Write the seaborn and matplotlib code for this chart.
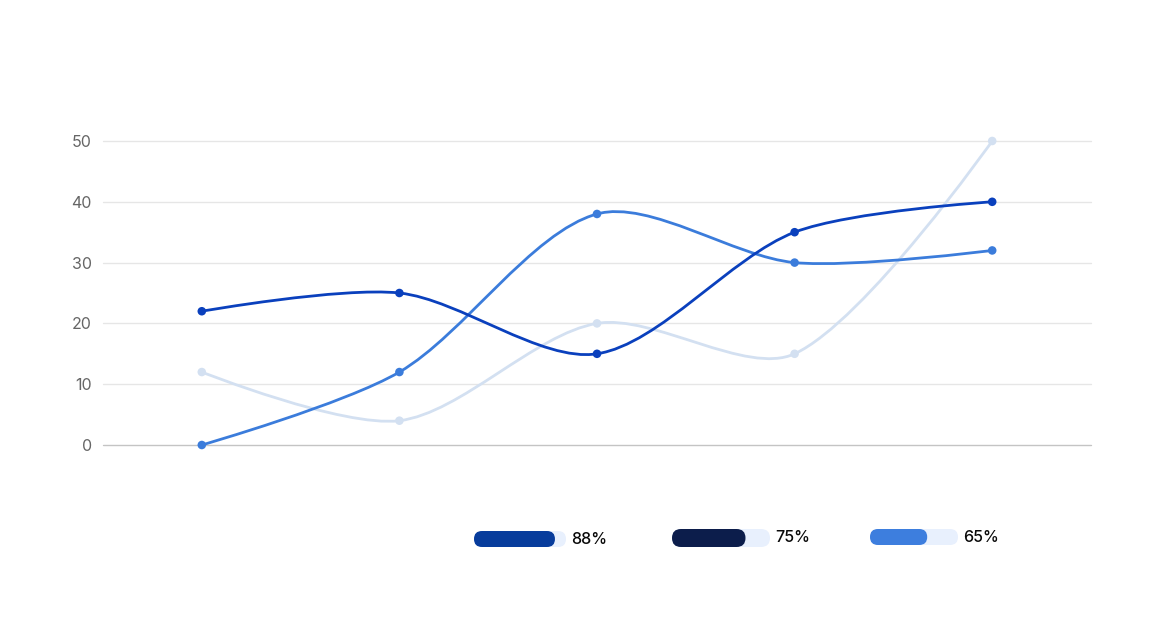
import numpy as np
import matplotlib
matplotlib.use("Agg")
import matplotlib.pyplot as plt
from matplotlib.path import Path
from matplotlib.patches import PathPatch, FancyBboxPatch
import seaborn as sns
import pandas as pd

# ---- data ----
categories = ["A", "B", "C", "D", "E"]
series_dark = [22, 25, 15, 35, 40]
series_mid = [0, 12, 38, 30, 32]
series_light = [12, 4, 20, 15, 50]
y_ticks = [0, 10, 20, 30, 40, 50]
legend_pcts = [88, 75, 65]

# ---- style ----
sns.set_theme(style="white")
plt.rcParams["font.family"] = ["Inter", "DejaVu Sans"]

W, H = 1163, 643
fig = plt.figure(figsize=(W / 100, H / 100), dpi=100)
ax_l, ax_r, ax_b, ax_t = 103, 1091, 445, 141
ax = fig.add_axes([ax_l / W, 1 - ax_b / H, (ax_r - ax_l) / W, (ax_b - ax_t) / H])

line_colors = ["#0a40bd", "#3b7cdb", "#d3e0f1"]
series_list = [series_light, series_mid, series_dark]
colors_list = [line_colors[2], line_colors[1], line_colors[0]]

xs = np.arange(len(categories))
px_x = (ax_r - ax_l) / len(categories)
px_y = (ax_b - ax_t) / 50.0


def smooth_path(xv, yv, smooth=0.3):
    # bezier smoothing computed in pixel space
    P = np.column_stack([np.asarray(xv, float) * px_x, np.asarray(yv, float) * px_y])
    n = len(P)
    verts = [P[0]]
    codes = [Path.MOVETO]
    cp0 = P[0].copy()
    for k in range(1, n):
        prev = P[k - 1]
        cur = P[k]
        if k + 1 < n:
            nxt = P[k + 1]
            v = nxt - prev
            l0 = np.hypot(*(cur - prev))
            l1 = np.hypot(*(nxt - cur))
            r = l1 / (l0 + l1)
            ncp = cur - v * smooth * (1 - r)
            after = cur + v * smooth * r
        else:
            ncp = cur.copy()
            after = cur.copy()
        verts += [cp0, ncp, cur]
        codes += [Path.CURVE4] * 3
        cp0 = after
    verts = np.array(verts)
    verts[:, 0] /= px_x
    verts[:, 1] /= px_y
    return Path(verts, codes)


for s, c in zip(series_list, colors_list):
    ax.add_patch(PathPatch(smooth_path(xs, s), facecolor="none", edgecolor=c,
                           lw=2, clip_on=False, zorder=3))

rows = []
for name, s in zip(["light", "mid", "dark"], series_list):
    for x, v in zip(xs, s):
        rows.append({"x": x, "y": v, "series": name})
df = pd.DataFrame(rows)
sns.scatterplot(data=df, x="x", y="y", hue="series",
                palette={"light": line_colors[2], "mid": line_colors[1], "dark": line_colors[0]},
                s=38, linewidth=0, ax=ax, legend=False, zorder=4, clip_on=False)

ax.set_xlim(-0.5, len(categories) - 0.5)
ax.set_ylim(0, 50)
ax.set_yticks(y_ticks)
ax.set_yticklabels([str(t) for t in y_ticks], color="#666666", fontsize=11.5)
ax.set_xticks([])
ax.set_xlabel("")
ax.set_ylabel("")
ax.tick_params(axis="y", length=0, pad=8)
for sp in ax.spines.values():
    sp.set_visible(False)
for t in y_ticks[1:]:
    ax.axhline(t, color="#e6e6e6", lw=1, zorder=1, clip_on=False)
ax.axhline(0, color="#c4c4c4", lw=1, zorder=1, clip_on=False)

# ---- progress-bar legend ----
lax = fig.add_axes([0, 0, 1, 1])
lax.set_xlim(0, W)
lax.set_ylim(H, 0)
lax.axis("off")
bar_colors = ["#073c9c", "#0c1d4b", "#3d7ede"]
bar_x = [474, 672, 870]
bar_total = [92, 98, 88]
bar_y = [539, 538, 537]
bar_h = [16, 18, 16]
for pct, col, x0, tot, yc, h in zip(legend_pcts, bar_colors, bar_x, bar_total, bar_y, bar_h):
    r = h / 2
    lax.add_patch(FancyBboxPatch((x0, yc - h / 2), tot, h,
                                 boxstyle=f"round,pad=0,rounding_size={r}",
                                 facecolor="#e8f0fd", edgecolor="none"))
    fw = tot * pct / 100.0
    lax.add_patch(FancyBboxPatch((x0, yc - h / 2), fw, h,
                                 boxstyle=f"round,pad=0,rounding_size={r}",
                                 facecolor=col, edgecolor="none"))
    lax.text(x0 + tot + 5, yc, f"{pct}%", ha="left", va="center",
             fontsize=11.5, color="#0a0a0a", fontweight="medium")

fig.savefig("out.png", dpi=100)
